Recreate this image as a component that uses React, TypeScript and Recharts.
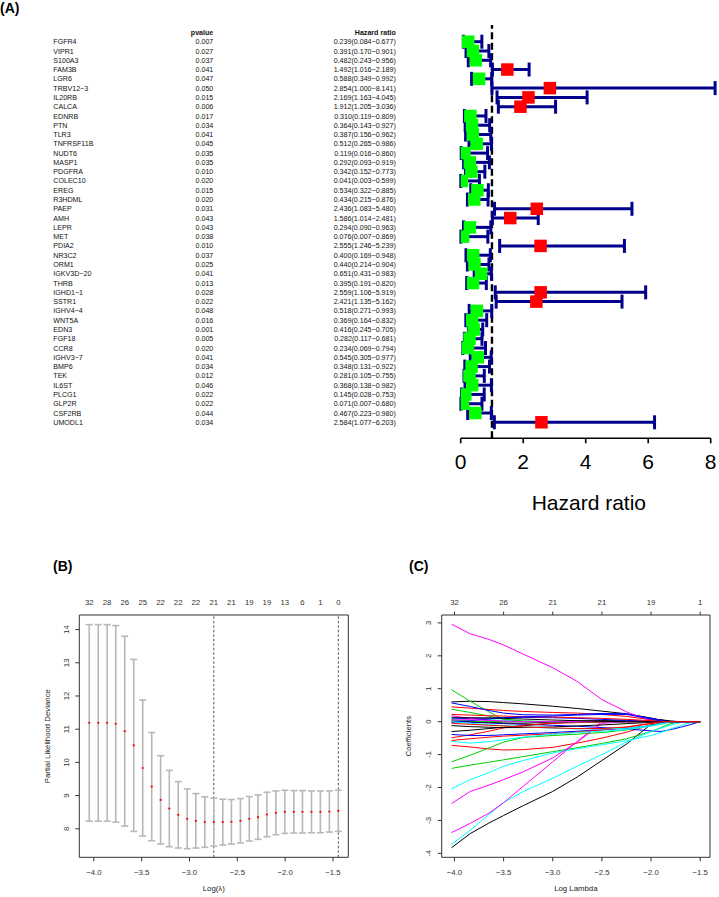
import React from 'react';
import {
  ScatterChart,
  Scatter,
  LineChart,
  Line,
  XAxis,
  YAxis,
  ErrorBar,
  ReferenceLine,
  ReferenceArea,
  Label,
} from 'recharts';

const FONT = '"Liberation Sans", Arial, Helvetica, sans-serif';

// ---------------- Panel A : univariate Cox forest ----------------
const genes = [
  'FGFR4', 'VIPR1', 'S100A3', 'FAM3B', 'LGR6', 'TRBV12-3', 'IL20RB', 'CALCA', 'EDNRB', 'PTN',
  'TLR3', 'TNFRSF11B', 'NUDT6', 'MASP1', 'PDGFRA', 'COLEC10', 'EREG', 'R3HDML', 'PAEP', 'AMH',
  'LEPR', 'MET', 'PDIA2', 'NR3C2', 'ORM1', 'IGKV3D-20', 'THRB', 'IGHD1-1', 'SSTR1', 'IGHV4-4',
  'WNT5A', 'EDN3', 'FGF18', 'CCR8', 'IGHV3-7', 'BMP6', 'TEK', 'IL6ST', 'PLCG1', 'GLP2R',
  'CSF2RB', 'UMODL1',
];
const pValues = [
  0.007, 0.027, 0.037, 0.041, 0.047, 0.05, 0.015, 0.006, 0.017, 0.034,
  0.041, 0.045, 0.035, 0.035, 0.01, 0.02, 0.015, 0.02, 0.031, 0.043,
  0.043, 0.038, 0.01, 0.037, 0.025, 0.041, 0.013, 0.028, 0.022, 0.048,
  0.016, 0.001, 0.005, 0.02, 0.041, 0.034, 0.012, 0.046, 0.022, 0.022,
  0.044, 0.034,
];
const hazardRatios = [
  0.239, 0.391, 0.482, 1.492, 0.588, 2.854, 2.169, 1.912, 0.31, 0.364,
  0.387, 0.512, 0.119, 0.292, 0.342, 0.041, 0.534, 0.434, 2.436, 1.586,
  0.294, 0.076, 2.555, 0.4, 0.44, 0.651, 0.395, 2.559, 2.421, 0.518,
  0.369, 0.416, 0.282, 0.234, 0.545, 0.348, 0.281, 0.368, 0.145, 0.071,
  0.467, 2.584,
];
const ciLower = [
  0.084, 0.17, 0.243, 1.016, 0.349, 1.0, 1.163, 1.205, 0.119, 0.143,
  0.156, 0.265, 0.016, 0.093, 0.152, 0.003, 0.322, 0.215, 1.083, 1.014,
  0.09, 0.007, 1.246, 0.169, 0.214, 0.431, 0.191, 1.106, 1.135, 0.271,
  0.164, 0.245, 0.117, 0.069, 0.305, 0.131, 0.105, 0.138, 0.028, 0.007,
  0.223, 1.077,
];
const ciUpper = [
  0.677, 0.901, 0.956, 2.189, 0.992, 8.141, 4.045, 3.036, 0.809, 0.927,
  0.962, 0.986, 0.86, 0.919, 0.773, 0.599, 0.885, 0.876, 5.48, 2.481,
  0.963, 0.869, 5.239, 0.948, 0.904, 0.983, 0.82, 5.919, 5.162, 0.993,
  0.832, 0.705, 0.681, 0.794, 0.977, 0.922, 0.755, 0.982, 0.753, 0.68,
  0.98, 6.203,
];
const hrAxisTicks = [0, 2, 4, 6, 8];

const forestRows = genes.map((gene, i) => ({
  row: i + 1,
  gene,
  p: pValues[i],
  hr: hazardRatios[i],
  lo: ciLower[i],
  hi: ciUpper[i],
  err: [hazardRatios[i] - ciLower[i], ciUpper[i] - hazardRatios[i]],
}));
const tableRowTicks = [0, ...forestRows.map((r) => r.row)];

// ---------------- Panel B : cv.glmnet deviance ----------------
const lambdaB = [
  -4.048, -3.954, -3.861, -3.771, -3.677, -3.583, -3.489, -3.395, -3.302, -3.211,
  -3.118, -3.024, -2.934, -2.84, -2.746, -2.652, -2.562, -2.468, -2.375, -2.284,
  -2.191, -2.097, -2.003, -1.909, -1.819, -1.725, -1.632, -1.538, -1.444,
];
const cvMean = [
  11.19, 11.19, 11.19, 11.16, 10.94, 10.51, 9.83, 9.27, 8.87, 8.61,
  8.42, 8.3, 8.24, 8.2, 8.2, 8.2, 8.21, 8.24, 8.3, 8.35,
  8.43, 8.48, 8.51, 8.51, 8.51, 8.51, 8.51, 8.52, 8.54,
];
const cvSd = [
  2.96, 2.96, 2.96, 2.96, 2.86, 2.59, 2.05, 1.63, 1.33, 1.15,
  1.0, 0.9, 0.82, 0.76, 0.72, 0.69, 0.67, 0.67, 0.67, 0.67,
  0.67, 0.66, 0.65, 0.64, 0.64, 0.63, 0.63, 0.62, 0.62,
];
const nzLabelsB = ['32', '28', '26', '25', '22', '22', '22', '21', '21', '19', '19', '13', '6', '1', '0'];
const lambdaMinB = -2.746;
const lambda1seB = -1.444;
const lambdaAxisTicks = [-4, -3.5, -3, -2.5, -2, -1.5];
const devianceTicks = [8, 9, 10, 11, 12, 13, 14];

const cvRows = lambdaB.map((x, i) => ({ x, y: cvMean[i], sd: cvSd[i] }));
const topTicksB = lambdaB.filter((_, i) => i % 2 === 0);

// ---------------- Panel C : coefficient paths ----------------
const lambdaGridC = [-4.03, -3.84, -3.65, -3.5, -3.3, -3.0, -2.75, -2.5, -2.25, -2.0, -1.9, -1.8, -1.7, -1.6, -1.5];
const dfLabelsC = ['32', '26', '21', '21', '19', '1'];
const coefTicks = [-4, -3, -2, -1, 0, 1, 2, 3];
const coefPaths = [
  [0.6, 0.62, 0.61, 0.58, 0.54, 0.47, 0.4, 0.32, 0.24, 0.11, 0.05, 0, 0, 0, 0],
  [0.45, 0.41, 0.37, 0.34, 0.31, 0.28, 0.26, 0.22, 0.16, 0.06, 0.02, 0, 0, 0, 0],
  [0.97, 0.62, 0.3, 0.06, 0, 0, 0, 0, 0, 0, 0, 0, 0, 0, 0],
  [0.57, 0.46, 0.34, 0.26, 0.21, 0.2, 0.22, 0.25, 0.24, 0.1, 0.05, 0.01, 0, 0, 0],
  [0.12, 0.09, 0.06, 0.04, 0.02, 0, 0, 0, 0, 0, 0, 0, 0, 0, 0],
  [2.96, 2.67, 2.5, 2.33, 2.05, 1.64, 1.22, 0.67, 0.3, 0.02, 0, 0, 0, 0, 0],
  [-3.83, -3.4, -3.08, -2.85, -2.55, -2.12, -1.68, -1.18, -0.68, -0.08, 0.06, 0.02, 0, 0, 0],
  [-0.72, -0.77, -0.83, -0.86, -0.85, -0.78, -0.65, -0.5, -0.32, -0.1, -0.03, 0, 0, 0, 0],
  [-1.42, -1.32, -1.23, -1.16, -1.06, -0.91, -0.79, -0.66, -0.52, -0.3, -0.18, -0.06, 0, 0, 0],
  [0, -0.02, -0.04, -0.06, -0.08, -0.11, -0.14, -0.18, -0.22, -0.28, -0.3, -0.24, -0.17, -0.09, 0],
  [-3.73, -3.3, -2.82, -2.46, -2.12, -1.72, -1.35, -1.0, -0.62, -0.3, -0.2, -0.1, -0.03, 0, 0],
  [-3.37, -3.09, -2.78, -2.46, -1.96, -1.22, -0.6, 0, 0, 0, 0, 0, 0, 0, 0],
  [-0.3, -0.26, -0.21, -0.17, -0.12, -0.05, 0, 0.02, 0.02, 0, 0, 0, 0, 0, 0],
  [-0.49, -0.4, -0.29, -0.19, -0.11, -0.05, -0.03, -0.02, 0, 0, 0, 0, 0, 0, 0],
  [-1.22, -1.02, -0.8, -0.62, -0.48, -0.42, -0.38, -0.33, -0.25, -0.12, -0.05, 0, 0, 0, 0],
  [-0.39, -0.42, -0.42, -0.4, -0.37, -0.33, -0.29, -0.25, -0.2, -0.12, -0.06, 0, 0, 0, 0],
  [-2.04, -1.76, -1.55, -1.35, -1.18, -0.95, -0.82, -0.7, -0.58, -0.42, -0.33, -0.22, -0.12, -0.03, 0],
  [-2.49, -2.12, -1.93, -1.76, -1.52, -1.1, -0.62, -0.05, 0, 0, 0, 0, 0, 0, 0],
  [0.02, 0, -0.02, -0.04, -0.05, -0.01, 0.02, 0.03, 0.02, 0, 0, 0, 0, 0, 0],
  [-0.57, -0.52, -0.47, -0.44, -0.41, -0.37, -0.32, -0.25, -0.17, -0.06, 0, 0, 0, 0, 0],
  [0.38, 0.28, 0.17, 0.08, 0.02, 0, 0, 0, 0, 0, 0, 0, 0, 0, 0],
  [0.08, 0.1, 0.11, 0.12, 0.13, 0.12, 0.1, 0.07, 0.04, 0.01, 0, 0, 0, 0, 0],
  [-0.6, -0.65, -0.61, -0.55, -0.47, -0.38, -0.33, -0.29, -0.24, -0.14, -0.08, -0.02, 0, 0, 0],
  [0.18, 0.1, 0.04, 0, 0, 0, 0, 0, 0, 0, 0, 0, 0, 0, 0],
  [-0.12, -0.15, -0.17, -0.18, -0.18, -0.16, -0.13, -0.1, -0.06, -0.02, 0, 0, 0, 0, 0],
  [0.22, 0.2, 0.18, 0.17, 0.15, 0.14, 0.12, 0.1, 0.07, 0.03, 0.01, 0, 0, 0, 0],
  [0.05, 0.02, 0, 0, 0, 0, 0, 0, 0, 0, 0, 0, 0, 0, 0],
  [-0.02, 0.03, 0.08, 0.12, 0.15, 0.17, 0.2, 0.22, 0.22, 0.08, 0.02, 0, 0, 0, 0],
  [0, -0.05, -0.09, -0.12, -0.15, -0.2, -0.22, -0.22, -0.2, -0.12, -0.06, 0, 0, 0, 0],
  [0.05, 0.06, 0.04, 0.02, 0, 0, 0, 0, 0, 0, 0, 0, 0, 0, 0],
  [0.12, 0.12, 0.11, 0.1, 0.08, 0.05, 0.03, 0.01, 0, 0, 0, 0, 0, 0, 0],
  [-0.05, -0.08, -0.11, -0.13, -0.16, -0.19, -0.21, -0.21, -0.16, -0.05, 0, 0, 0, 0, 0],
];
const pathPalette = ['#000000', '#FF0000', '#00CD00', '#0000FF', '#00FFFF', '#FF00FF'];

const coefRows = lambdaGridC.map((x, i) => {
  const row: Record<string, number> = { x };
  coefPaths.forEach((vals, k) => {
    row[`b${k}`] = vals[i];
  });
  return row;
});

// ---------------- helpers ----------------
const minus = (s: string) => s.replace(/-/g, '\u2212');

function TableTick(props: any) {
  const { y, payload } = props;
  const idx = Math.round(Number(payload.value));
  const common = { y, dy: '0.36em', fontSize: 7.1, fontFamily: FONT, fill: '#111' };
  if (idx === 0) {
    return (
      <g>
        <text {...common} x={213.3} textAnchor="end" fontWeight="bold">pvalue</text>
        <text {...common} x={395.8} textAnchor="end" fontWeight="bold">Hazard ratio</text>
      </g>
    );
  }
  const r = forestRows[idx - 1];
  if (!r) return <g />;
  return (
    <g>
      <text {...common} x={53.3} textAnchor="start">{minus(r.gene)}</text>
      <text {...common} x={213.3} textAnchor="end">{r.p.toFixed(3)}</text>
      <text {...common} x={395.8} textAnchor="end">
        {minus(`${r.hr.toFixed(3)}(${r.lo.toFixed(3)}-${r.hi.toFixed(3)})`)}
      </text>
    </g>
  );
}

const greenBox = (p: any) => (
  <rect x={p.cx - 6.25} y={p.cy - 6.25} width={12.5} height={12.5} fill="#00FF00" />
);
const redBox = (p: any) => (
  <rect x={p.cx - 6.25} y={p.cy - 6.25} width={12.5} height={12.5} fill="#FF0000" />
);
const redDot = (p: any) => <circle cx={p.cx} cy={p.cy} r={1.1} fill="#FF0000" />;
const noShape = () => <g />;

function RotTick(props: any) {
  const { x, y, payload } = props;
  return (
    <text
      x={x}
      y={y}
      transform={`rotate(-90 ${x} ${y})`}
      textAnchor="middle"
      fontSize={7.8}
      fill="#333"
      fontFamily={FONT}
    >
      {payload.value}
    </text>
  );
}

function BottomTitle(props: any) {
  const vb = props.viewBox;
  if (!vb) return null;
  return (
    <text
      x={vb.x + vb.width / 2}
      y={vb.y + 31.2}
      dy="0.36em"
      textAnchor="middle"
      fontSize={7.8}
      fill="#222"
      fontFamily={FONT}
    >
      {props.text}
    </text>
  );
}

function LeftTitle(props: any) {
  const vb = props.viewBox;
  if (!vb) return null;
  const cx = vb.x + vb.width - props.dist;
  const cy = vb.y + vb.height / 2;
  return (
    <text
      x={cx}
      y={cy}
      dy="0.36em"
      transform={`rotate(-90 ${cx} ${cy})`}
      textAnchor="middle"
      fontSize={7.8}
      fill="#222"
      fontFamily={FONT}
    >
      {props.text}
    </text>
  );
}

const errKey = (d: any) => (d && d.payload && d.payload.err ? d.payload.err : d.err);
const sdKey = (d: any) => (d && d.payload && d.payload.sd !== undefined ? d.payload.sd : d.sd);

function ForestPanel() {
  return (
    <ScatterChart width={719} height={520} margin={{ top: 25, right: 2.05, bottom: 0, left: 0 }}>
      <XAxis
        type="number"
        dataKey="hr"
        domain={[0, 8.2]}
        allowDataOverflow
        ticks={hrAxisTicks}
        interval={0}
        height={81.7}
        axisLine={false}
        stroke="#000"
        tickLine={{ stroke: '#000', strokeWidth: 1.6 }}
        tickSize={5}
        tickMargin={11}
        tick={{ fontSize: 21, fill: '#000', fontFamily: FONT }}
      >
        <Label
          value="Hazard ratio"
          position="insideBottom"
          offset={10.5}
          style={{ fontSize: 21, fill: '#000', fontFamily: FONT }}
        />
      </XAxis>
      <YAxis
        type="number"
        dataKey="row"
        domain={[-0.799, 43.724]}
        reversed
        allowDataOverflow
        ticks={tableRowTicks}
        interval={0}
        width={460.7}
        axisLine={false}
        tickLine={false}
        tick={(p: any) => <TableTick {...p} />}
      />
      <ReferenceLine x={1} stroke="#000" strokeWidth={2.4} strokeDasharray="7 3.5" />
      <ReferenceLine
        segment={[
          { x: 0, y: 43.724 },
          { x: 8, y: 43.724 },
        ]}
        stroke="#000"
        strokeWidth={1.6}
      />
      {forestRows.map((r) => (
        <Scatter
          key={r.gene}
          data={[r]}
          isAnimationActive={false}
          shape={r.hr >= 1 ? redBox : greenBox}
        >
          <ErrorBar
            dataKey={errKey}
            direction="x"
            stroke="#00008B"
            strokeWidth={3}
            width={7}
            isAnimationActive={false}
          />
        </Scatter>
      ))}
    </ScatterChart>
  );
}

function CvPanel() {
  const xDom: [number, number] = [-4.152, -1.34];
  const yDom: [number, number] = [7.14, 14.44];
  return (
    <ScatterChart width={360} height={317} margin={{ top: 0, right: 11.7, bottom: 0, left: 0 }}>
      <XAxis
        type="number"
        dataKey="x"
        domain={xDom}
        allowDataOverflow
        ticks={lambdaAxisTicks}
        interval={0}
        tickFormatter={(v: number) => minus(v.toFixed(1))}
        height={39.7}
        axisLine={false}
        stroke="#333"
        tickSize={4}
        tickMargin={8}
        tick={{ fontSize: 7.8, fill: '#333', fontFamily: FONT }}
      >
        <Label content={(p: any) => <BottomTitle {...p} text="Log(λ)" />} />
      </XAxis>
      <XAxis
        xAxisId="top"
        orientation="top"
        type="number"
        dataKey="x"
        domain={xDom}
        allowDataOverflow
        ticks={topTicksB}
        interval={0}
        tickFormatter={(_v: number, i: number) => nzLabelsB[i]}
        height={35}
        axisLine={false}
        tickLine={false}
        tickSize={0}
        tickMargin={9.9}
        tick={{ fontSize: 7.8, fill: '#333', fontFamily: FONT }}
      />
      <YAxis
        type="number"
        dataKey="y"
        domain={yDom}
        allowDataOverflow
        ticks={devianceTicks}
        interval={0}
        width={79.3}
        axisLine={false}
        stroke="#333"
        tickSize={4}
        tickMargin={6}
        tick={(p: any) => <RotTick {...p} />}
      >
        <Label content={(p: any) => <LeftTitle {...p} text="Partial Likelihood Deviance" dist={32.6} />} />
      </YAxis>
      <ReferenceArea
        x1={xDom[0]}
        x2={xDom[1]}
        y1={yDom[0]}
        y2={yDom[1]}
        fill="none"
        stroke="#333"
        strokeWidth={1}
        ifOverflow="visible"
      />
      <ReferenceLine x={lambdaMinB} stroke="#555" strokeWidth={1} strokeDasharray="2.5 2" />
      <ReferenceLine x={lambda1seB} stroke="#555" strokeWidth={1} strokeDasharray="2.5 2" />
      <Scatter xAxisId="top" data={cvRows} isAnimationActive={false} shape={noShape} />
      <Scatter data={cvRows} isAnimationActive={false} shape={redDot}>
        <ErrorBar
          dataKey={sdKey}
          direction="y"
          stroke="#B8B8B8"
          strokeWidth={1.6}
          width={3.5}
          isAnimationActive={false}
        />
      </Scatter>
    </ScatterChart>
  );
}

function PathPanel() {
  const xDom: [number, number] = [-4.13, -1.4];
  const yDom: [number, number] = [-4.12, 3.24];
  return (
    <LineChart width={359} height={317} data={coefRows} margin={{ top: 0, right: 9, bottom: 0, left: 0 }}>
      <XAxis
        type="number"
        dataKey="x"
        domain={xDom}
        allowDataOverflow
        ticks={lambdaAxisTicks}
        interval={0}
        tickFormatter={(v: number) => minus(v.toFixed(1))}
        height={39.7}
        axisLine={false}
        stroke="#333"
        tickSize={4}
        tickMargin={8}
        tick={{ fontSize: 7.8, fill: '#333', fontFamily: FONT }}
      >
        <Label content={(p: any) => <BottomTitle {...p} text="Log Lambda" />} />
      </XAxis>
      <XAxis
        xAxisId="top"
        orientation="top"
        type="number"
        dataKey="x"
        domain={xDom}
        allowDataOverflow
        ticks={lambdaAxisTicks}
        interval={0}
        tickFormatter={(_v: number, i: number) => dfLabelsC[i]}
        height={35}
        axisLine={false}
        stroke="#333"
        tickSize={3.3}
        tickMargin={6.6}
        tick={{ fontSize: 7.8, fill: '#333', fontFamily: FONT }}
      />
      <YAxis
        type="number"
        domain={yDom}
        allowDataOverflow
        ticks={coefTicks}
        interval={0}
        width={81.7}
        axisLine={false}
        stroke="#333"
        tickSize={4}
        tickMargin={6.6}
        tick={(p: any) => <RotTick {...p} />}
      >
        <Label content={(p: any) => <LeftTitle {...p} text="Coefficients" dist={33.4} />} />
      </YAxis>
      <ReferenceArea
        x1={xDom[0]}
        x2={xDom[1]}
        y1={yDom[0]}
        y2={yDom[1]}
        fill="none"
        stroke="#333"
        strokeWidth={1}
        ifOverflow="visible"
      />
      <Line
        xAxisId="top"
        type="linear"
        dataKey="b0"
        stroke="none"
        strokeWidth={0}
        dot={false}
        activeDot={false}
        isAnimationActive={false}
      />
      {coefPaths.map((_vals, k) => (
        <Line
          key={k}
          type="linear"
          dataKey={`b${k}`}
          stroke={pathPalette[k % 6]}
          strokeWidth={1}
          dot={false}
          activeDot={false}
          isAnimationActive={false}
        />
      ))}
    </LineChart>
  );
}

const panelLabel: React.CSSProperties = {
  position: 'absolute',
  fontFamily: FONT,
  fontWeight: 'bold',
  fontSize: 14,
  lineHeight: '14px',
  color: '#000',
};

export default function App() {
  return (
    <div
      style={{
        position: 'absolute',
        left: 0,
        top: 0,
        width: 719,
        height: 897,
        background: '#fff',
        overflow: 'hidden',
        fontFamily: FONT,
      }}
    >
      <div style={{ position: 'absolute', left: 0, top: 0 }}>
        <ForestPanel />
      </div>
      <div style={{ position: 'absolute', left: 0, top: 580 }}>
        <CvPanel />
      </div>
      <div style={{ position: 'absolute', left: 360, top: 580 }}>
        <PathPanel />
      </div>
      <div style={{ ...panelLabel, left: 0, top: 1 }}>(A)</div>
      <div style={{ ...panelLabel, left: 53, top: 559 }}>(B)</div>
      <div style={{ ...panelLabel, left: 409, top: 559 }}>(C)</div>
    </div>
  );
}
